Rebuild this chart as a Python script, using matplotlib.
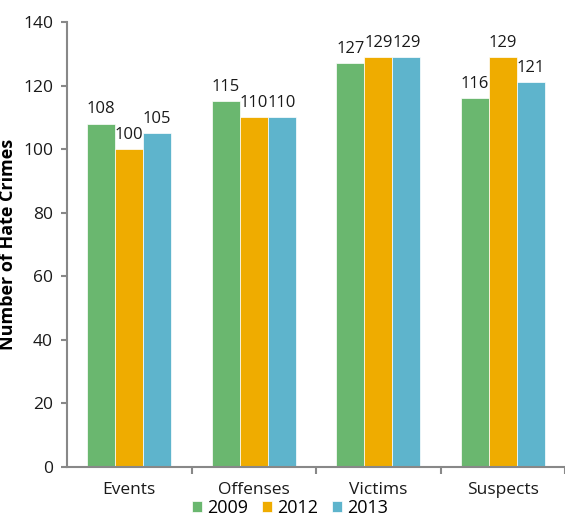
import matplotlib
matplotlib.use("Agg")
import matplotlib.pyplot as plt
import numpy as np

# data
categories = ["Events", "Offenses", "Victims", "Suspects"]
years = ["2009", "2012", "2013"]
v2009 = [108, 115, 127, 116]
v2012 = [100, 110, 129, 129]
v2013 = [105, 110, 129, 121]
colors = ["#6ab76f", "#efac00", "#5eb4cc"]

plt.rcParams['font.family'] = ['Open Sans', 'DejaVu Sans']

fig = plt.figure(figsize=(5.65, 5.17), dpi=100)
ax = fig.add_axes([0.1186, 0.0967, 0.8814, 0.8607])

x = np.arange(len(categories))
w = 0.225
for i, (vals, yr) in enumerate(zip([v2009, v2012, v2013], years)):
    pos = x + (i - 1) * w
    ax.bar(pos, vals, width=w, color=colors[i], label=yr,
           edgecolor="white", linewidth=0.5)
    for p, v in zip(pos, vals):
        ax.annotate(str(v), (p, v), xytext=(0, 7.5), textcoords="offset points",
                    ha="center", va="baseline", fontsize=12, color="#1a1a1a")

ax.set_xlim(-0.5, len(categories) - 0.5)
ax.set_ylim(0, 140)
ax.set_yticks(range(0, 141, 20))
ax.set_xticks(x)
ax.set_xticklabels(categories, fontsize=12.5, color="#1a1a1a")
ax.set_xticks(np.arange(0.5, len(categories), 1.0), minor=True)
ax.tick_params(axis="x", which="major", length=0, pad=11)
ax.tick_params(axis="x", which="minor", length=5, width=1.5, color="#888888")
ax.tick_params(axis="y", length=4, width=1.5, color="#888888", labelsize=12.5,
               labelcolor="#1a1a1a", pad=6)

for s in ["top", "right"]:
    ax.spines[s].set_visible(False)
for s in ["left", "bottom"]:
    ax.spines[s].set_color("#888888")
    ax.spines[s].set_linewidth(1.5)

ax.set_ylabel("Number of Hate Crimes", fontsize=13, fontweight="bold")
ax.yaxis.set_label_coords(-0.1004, 0.5)

ax.legend(loc="center", bbox_to_anchor=(0.448, -0.092), ncol=3, frameon=False,
          fontsize=13, handlelength=0.55, handleheight=0.55, handletextpad=0.25,
          columnspacing=0.8, borderaxespad=0, borderpad=0)

fig.savefig("out.png", dpi=100)
